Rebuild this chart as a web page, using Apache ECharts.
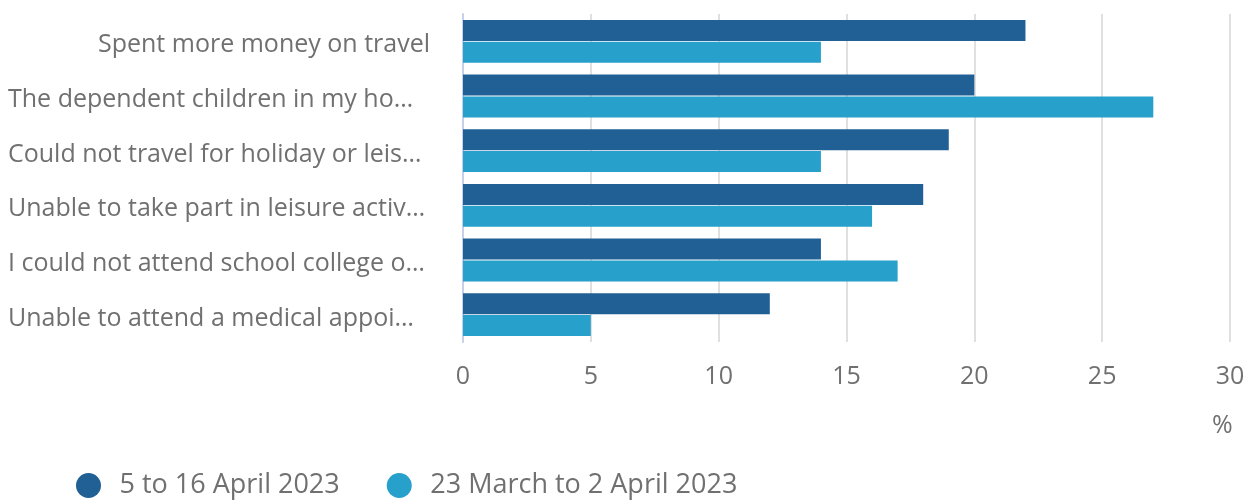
<!DOCTYPE html>
<html>
<head>
<meta charset="utf-8">
<script src="https://cdn.jsdelivr.net/npm/echarts@6/dist/echarts.min.js"></script>
<style>
html,body{margin:0;padding:0;background:#fff;}
#main{width:1255px;height:503px;}
</style>
</head>
<body>
<div id="main"></div>
<script>
// categories, top to bottom
var categories = [
	'Spent more money on travel',
	'The dependent children in my ho\u2026',
	'Could not travel for holiday or leis\u2026',
	'Unable to take part in leisure activ\u2026',
	'I could not attend school college o\u2026',
	'Unable to attend a medical appoi\u2026'
];
var april = [22, 20, 19, 18, 14, 12];
var march = [14, 27, 14, 16, 17, 5];
var xTicks = [0, 5, 10, 15, 20, 25, 30];

var grey = '#707070';
var myChart = echarts.init(document.getElementById('main'));
myChart.setOption({
	animation: false,
	textStyle: {fontFamily: 'Open Sans'},
	title: {
		text: '%',
		left: 1207,
		top: 408,
		textStyle: {color: grey, fontSize: 25, fontWeight: 'normal', fontFamily: 'Open Sans'}
	},
	legend: {
		left: 71,
		top: 467,
		icon: 'circle',
		itemWidth: 26,
		itemHeight: 25,
		itemGap: 47,
		textStyle: {color: grey, fontSize: 27, fontFamily: 'Open Sans', padding: [0, 0, 0, 13]},
		data: ['5 to 16 April 2023', '23 March to 2 April 2023']
	},
	grid: {left: 463, right: 25, top: 14, bottom: 161, containLabel: false},
	xAxis: {
		type: 'value',
		min: 0,
		max: 30,
		interval: 5,
		axisLine: {show: false},
		axisTick: {show: false},
		splitLine: {lineStyle: {color: '#e0e0e0', width: 2}},
		axisLabel: {
			color: grey, fontSize: 25, margin: 22,
			formatter: function(v) { return xTicks.indexOf(v) >= 0 ? String(v) : ''; }
		}
	},
	yAxis: {
		type: 'category',
		inverse: true,
		data: categories,
		axisLine: {lineStyle: {color: '#c8cfe8', width: 2}},
		axisTick: {length: 20, lineStyle: {color: '#c8cfe8', width: 2}},
		axisLabel: {
			margin: 33,
			// truncated labels sit at the left of the label box
			formatter: function(v) {
				return v.indexOf('\u2026') >= 0 ? '{l|' + v + '}' : '{r|' + v + '}';
			},
			rich: {
				l: {color: grey, fontSize: 25, width: 422, align: 'left', padding: [8, 0, 0, 0]},
				r: {color: grey, fontSize: 25, align: 'right', padding: [8, 0, 0, 0]}
			}
		}
	},
	series: [
		{
			name: '5 to 16 April 2023',
			type: 'bar',
			data: april,
			barWidth: 21,
			barGap: '4%',
			itemStyle: {color: '#206095'}
		},
		{
			name: '23 March to 2 April 2023',
			type: 'bar',
			data: march,
			barWidth: 21,
			barGap: '4%',
			itemStyle: {color: '#27a0cc'}
		}
	]
});
</script>
</body>
</html>
